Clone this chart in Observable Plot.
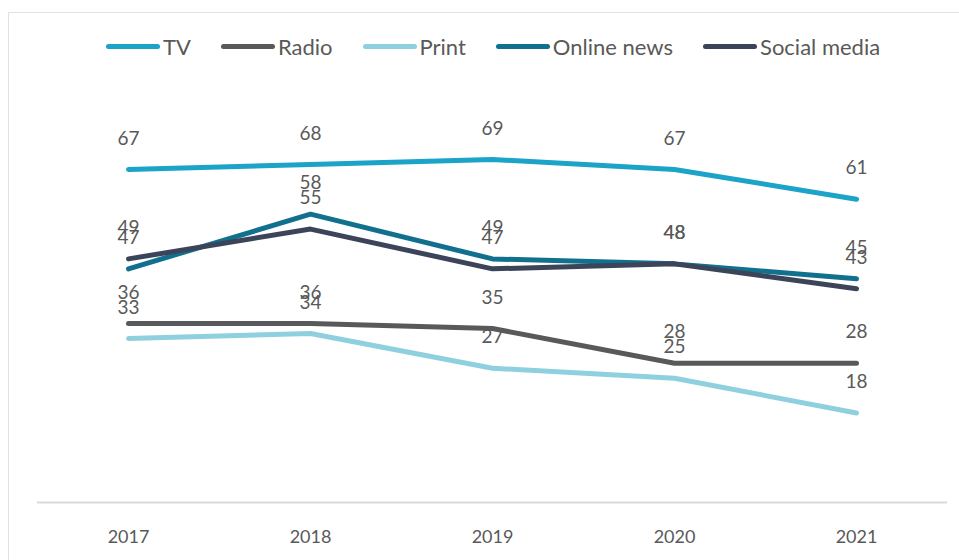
<!DOCTYPE html>
<html>
<head>
<meta charset="utf-8">
<script src="https://cdn.jsdelivr.net/npm/d3@7"></script>
<script src="https://cdn.jsdelivr.net/npm/@observablehq/plot@0.6"></script>
<style>
  body { margin: 0; background: #fff; font-family: Lato, "Open Sans", sans-serif; width: 959px; height: 560px; overflow: hidden; position: relative; }
  #frame { position: absolute; left: 8px; top: 12px; width: 1000px; height: 600px; border-left: 1px solid #e2e2e2; border-top: 1px solid #e2e2e2; }
  #legend { position: absolute; left: 106px; top: 33px; display: flex; align-items: center; font-size: 22px; color: #595959; }
  .item { display: flex; align-items: center; margin-right: 30px; }
  .sw { width: 54px; height: 5px; border-radius: 3px; margin-right: 3px; }
  #chart { position: absolute; left: 0; top: 80px; }
</style>
</head>
<body>
<div id="frame"></div>
<div id="legend"></div>
<div id="chart"></div>
<script>
const years = ["2017", "2018", "2019", "2020", "2021"];
const seriesNames = ["TV", "Radio", "Print", "Online news", "Social media"];
const seriesColors = ["#1ba3c8", "#58595b", "#8fd0de", "#12708f", "#3b4458"];
const tv = [67, 68, 69, 67, 61];
const radio = [36, 36, 35, 28, 28];
const print = [33, 34, 27, 25, 18];
const onlineNews = [47, 58, 49, 48, 45];
const socialMedia = [49, 55, 47, 48, 43];

const seriesValues = [tv, radio, print, onlineNews, socialMedia];
const data = [];
seriesNames.forEach((name, i) => {
  years.forEach((yr, j) => data.push({series: name, year: yr, value: seriesValues[i][j]}));
});

// legend
const legend = document.getElementById("legend");
seriesNames.forEach((name, i) => {
  const it = document.createElement("div");
  it.className = "item";
  const sw = document.createElement("div");
  sw.className = "sw";
  sw.style.background = seriesColors[i];
  const tx = document.createElement("span");
  tx.textContent = name;
  it.appendChild(sw); it.appendChild(tx);
  legend.appendChild(it);
});

const chart = Plot.plot({
  width: 959,
  height: 480,
  marginTop: 74,
  marginBottom: 58,
  marginLeft: 37,
  marginRight: 12,
  style: {fontFamily: "Lato, 'Open Sans', sans-serif", color: "#595959", background: "transparent"},
  x: {type: "point", domain: years, padding: 0.5, label: null},
  y: {domain: [0, 70], axis: null},
  color: {domain: seriesNames, range: seriesColors},
  marks: [
    Plot.ruleY([0], {stroke: "#d9d9d9", strokeWidth: 2}),
    Plot.axisX({tickSize: 0, tickPadding: 28, fontSize: 18, label: null}),
    Plot.text(data, {x: "year", y: "value", text: d => String(d.value), dy: -31, fontSize: 19, fill: "#595959"}),
    Plot.line(data, {x: "year", y: "value", z: "series", stroke: "series", strokeWidth: 5, strokeLinecap: "round", strokeLinejoin: "round"})
  ]
});
document.getElementById("chart").appendChild(chart);
</script>
</body>
</html>
